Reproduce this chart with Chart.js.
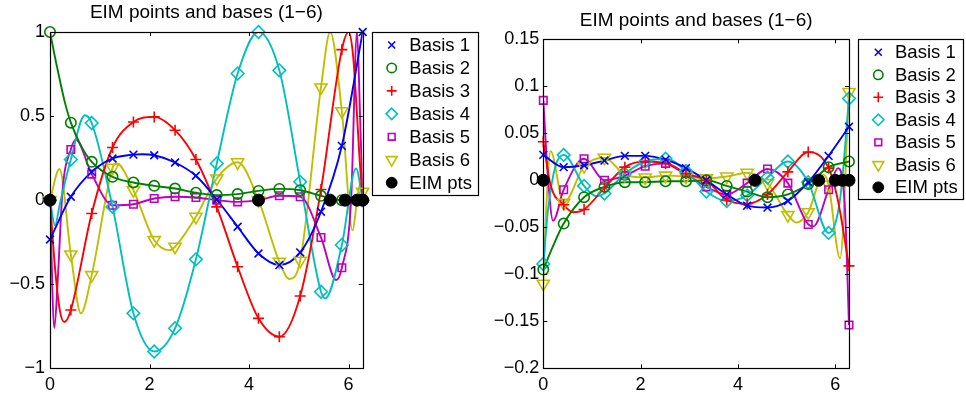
<!DOCTYPE html>
<html>
<head>
<meta charset="utf-8">
<script src="https://cdn.jsdelivr.net/npm/chart.js@4.4.0/dist/chart.umd.min.js"></script>
<style>
  html, body { margin: 0; padding: 0; background: #fff; }
  #wrap { position: relative; width: 966px; height: 396px; overflow: hidden; }
  canvas { position: absolute; top: 0; }
</style>
</head>
<body>
<div id="wrap">
  <canvas id="left" width="483" height="396" style="left:0"></canvas>
  <canvas id="right" width="483" height="396" style="left:483px"></canvas>
</div>
<script>
// marker positions along x (16 samples over 0..2pi)
const markerX = [0, 0.419, 0.838, 1.257, 1.676, 2.094, 2.513, 2.932, 3.351, 3.770, 4.189, 4.608, 5.027, 5.445, 5.864, 6.283];
const basisNames = ['Basis 1', 'Basis 2', 'Basis 3', 'Basis 4', 'Basis 5', 'Basis 6'];
const eimLabel = 'EIM pts';
const titleText = 'EIM points and bases (1\u22126)';

// left panel: values at the markers
const leftB1 = [-0.234, 0.02, 0.168, 0.248, 0.271, 0.267, 0.224, 0.145, 0.004, -0.158, -0.317, -0.386, -0.311, -0.069, 0.323, 1.0];
const leftB2 = [1.0, 0.461, 0.228, 0.139, 0.105, 0.085, 0.069, 0.044, 0.03, 0.036, 0.055, 0.067, 0.059, 0.026, 0.0, 0.0];
const leftB3 = [0, -0.653, -0.079, 0.313, 0.465, 0.495, 0.416, 0.242, -0.04, -0.396, -0.703, -0.812, -0.57, 0.063, 0.895, 0];
const leftB4 = [0, 0.242, 0.459, -0.04, -0.673, -0.9, -0.762, -0.352, 0.218, 0.753, 1.0, 0.772, 0.109, -0.545, -0.267, 0];
const leftB5 = [0, 0.301, 0.155, -0.03, -0.024, 0.01, 0.02, 0.016, 0, -0.01, 0, 0.026, 0.02, -0.222, -0.402, 0];
const leftB6 = [0, -0.323, -0.446, 0.192, 0.059, -0.238, -0.277, -0.099, 0.129, 0.225, 0, -0.366, -0.36, 0.67, 0.529, 0.05];
const leftB1Extra = [[1.85, 0.273]];
const leftB2Extra = [[0.1, 0.85], [0.2, 0.71], [0.3, 0.58], [0.63, 0.32]];
const leftB3Extra = [[0.1, -0.4], [0.2, -0.66], [0.29, -0.725], [6.0, 1.0], [6.09, 0.86], [6.16, 0.55], [6.22, 0.25]];
const leftB4Extra = [[0.1, -0.15], [0.2, -0.02], [0.7, 0.505], [5.53, -0.584], [6.15, 0.188]];
const leftB5Extra = [[0.087, -0.76], [0.16, -0.45], [0.25, 0.05], [0.516, 0.36], [5.75, -0.475], [6.05, 0.0], [6.17, 1.0], [6.23, 0.5]];
const leftB6Extra = [[0.19, 0.185], [0.62, -0.673], [1.34, 0.218], [2.41, -0.297], [4.81, -0.469], [5.63, 1.0], [6.08, -0.18], [6.17, 0.0], [6.24, 0.1]];
const leftEimX = [0, 4.189, 5.63, 5.93, 6.17, 6.283];

// right panel: values at the markers
const rightB1 = [0.027, 0.014, 0.016, 0.021, 0.026, 0.026, 0.022, 0.013, 0.0, -0.015, -0.027, -0.029, -0.022, -0.002, 0.026, 0.057];
const rightB2 = [-0.095, -0.046, -0.018, -0.007, -0.002, -0.002, -0.001, -0.001, 0.0, -0.006, -0.012, -0.018, -0.015, -0.004, 0.014, 0.02];
const rightB3 = [0.041, -0.026, -0.031, -0.008, 0.014, 0.02, 0.018, 0.007, 0.0, -0.021, -0.025, -0.015, 0.009, 0.03, 0.013, -0.091];
const rightB4 = [-0.089, 0.027, -0.006, -0.014, 0.007, 0.02, 0.023, 0.01, -0.012, -0.022, -0.016, 0.003, 0.02, -0.002, -0.056, 0.087];
const rightB5 = [0.085, -0.01, 0.023, 0.0, 0.005, 0.015, 0.018, 0.007, -0.007, -0.015, -0.003, 0.012, -0.003, -0.047, -0.01, -0.154];
const rightB6 = [-0.11, -0.024, 0.015, 0.024, 0.006, 0.003, 0.005, 0.004, 0.002, 0.004, 0.008, -0.003, -0.037, -0.034, -0.005, 0.094];
const rightB1Extra = [];
const rightB2Extra = [[0.2, -0.07]];
const rightB3Extra = [[0.15, -0.005], [0.62, -0.034], [6.05, -0.02]];
const rightB4Extra = [[0.1, -0.03], [0.25, 0.015], [1.1, -0.017], [6.1, -0.02]];
const rightB5Extra = [[0.1, 0.0], [0.2, -0.043], [5.55, -0.049], [6.06, 0.013], [6.2, -0.03]];
const rightB6Extra = [[0.07, -0.02], [0.15, 0.031], [5.2, -0.045], [5.76, 0.006], [6.1, -0.083]];
const rightEimX = [0, 4.35, 5.66, 6.0, 6.15, 6.283];

// styles
const basisColors = ['#0000ff', '#008000', '#ff0000', '#00bfbf', '#bf00bf', '#bfbf00'];
const basisMarkers = ['crossRot', 'circle', 'cross', 'rectRot', 'rect', 'triangle'];
const markerRotation = [0, 0, 0, 0, 0, 180];
const markerRadius = [5.5, 5.2, 5.5, 6.3, 5.3, 7];
const FONT = '"Liberation Sans", Arial, Helvetica, sans-serif';

const fmt = v => String(Math.round(v * 1000) / 1000).replace('-', '\u2212');

function buildDatasets(series, extras, eimX) {
  const sets = [];
  series.forEach((ys, i) => {
    sets.push({
      label: basisNames[i],
      inLegend: true,
      data: markerX.map((x, k) => ({ x, y: ys[k] })),
      showLine: false,
      pointStyle: basisMarkers[i],
      pointRotation: markerRotation[i],
      pointRadius: markerRadius[i],
      pointBorderWidth: 1.6,
      pointBorderColor: basisColors[i],
      pointBackgroundColor: 'rgba(0,0,0,0)',
      borderColor: basisColors[i],
      backgroundColor: 'rgba(0,0,0,0)',
      clip: 10,
      order: 1
    });
  });
  sets.push({
    label: eimLabel,
    inLegend: true,
    data: eimX.map(x => ({ x, y: 0 })),
    showLine: false,
    pointStyle: 'circle',
    pointRadius: 6,
    pointBorderWidth: 1,
    pointBorderColor: '#000',
    pointBackgroundColor: '#000',
    clip: 10,
    order: 0
  });
  series.forEach((ys, i) => {
    const pts = markerX.map((x, k) => ({ x, y: ys[k] }))
      .concat(extras[i].map(p => ({ x: p[0], y: p[1] })))
      .sort((a, b) => a.x - b.x);
    sets.push({
      label: '',
      data: pts,
      pointRadius: 0,
      borderColor: basisColors[i],
      borderWidth: 1.9,
      cubicInterpolationMode: 'monotone',
      fill: false,
      order: 2
    });
  });
  return sets;
}

const framePlugin = {
  id: 'frame',
  afterDraw(chart, args, o) {
    const { ctx, chartArea: a } = chart;
    const sx = chart.scales.x, sy = chart.scales.y;
    ctx.save();
    ctx.strokeStyle = '#000';
    ctx.lineWidth = 1;
    ctx.beginPath();
    sx.ticks.forEach(t => {
      const p = Math.round(sx.getPixelForValue(t.value)) + 0.5;
      ctx.moveTo(p, a.bottom); ctx.lineTo(p, a.bottom - 4);
      ctx.moveTo(p, a.top); ctx.lineTo(p, a.top + 4);
    });
    sy.ticks.forEach(t => {
      const p = Math.round(sy.getPixelForValue(t.value)) + 0.5;
      ctx.moveTo(a.left, p); ctx.lineTo(a.left + 4, p);
      ctx.moveTo(a.right, p); ctx.lineTo(a.right - 4, p);
    });
    ctx.stroke();
    ctx.lineWidth = 1.2;
    ctx.strokeRect(Math.round(a.left) + 0.5, Math.round(a.top) + 0.5,
      Math.round(a.right - a.left), Math.round(a.bottom - a.top));

    // title
    ctx.fillStyle = '#000';
    ctx.font = '19px ' + FONT;
    ctx.textAlign = 'center';
    ctx.textBaseline = 'alphabetic';
    ctx.fillText(o.title, (a.left + a.right) / 2, o.titleY);

    // legend box
    const L = o.legend;
    ctx.fillStyle = '#fff';
    ctx.fillRect(L.left, L.top, L.width, L.height);
    ctx.strokeStyle = '#000';
    ctx.lineWidth = 1.2;
    ctx.strokeRect(L.left + 0.5, L.top + 0.5, L.width, L.height);
    let row = 0;
    chart.data.datasets.forEach(ds => {
      if (!ds.inLegend) return;
      const y = L.firstRow + row * L.rowStep;
      ctx.strokeStyle = ds.pointBorderColor;
      ctx.fillStyle = ds.pointBackgroundColor;
      ctx.lineWidth = ds.pointBorderWidth;
      Chart.helpers.drawPoint(ctx, {
        pointStyle: ds.pointStyle,
        rotation: ds.pointRotation || 0,
        radius: ds.pointRadius * 0.9,
        borderWidth: ds.pointBorderWidth
      }, L.markerX, y);
      ctx.fillStyle = '#000';
      ctx.font = '18.5px ' + FONT;
      ctx.textAlign = 'left';
      ctx.textBaseline = 'middle';
      ctx.fillText(ds.label, L.textX, y + 1);
      row++;
    });
    ctx.restore();
  }
};

function makeChart(id, cfg) {
  return new Chart(document.getElementById(id), {
    type: 'line',
    data: { datasets: buildDatasets(cfg.series, cfg.extras, cfg.eimX) },
    options: {
      responsive: false,
      animation: false,
      events: [],
      layout: { padding: cfg.pad },
      scales: {
        x: {
          type: 'linear',
          min: 0,
          max: 6.283185307179586,
          grid: { display: false, drawTicks: false },
          border: { display: false },
          ticks: {
            stepSize: 2,
            includeBounds: false,
            autoSkip: false,
            maxRotation: 0,
            padding: 6,
            color: '#000',
            font: { family: FONT, size: 18 },
            callback: v => fmt(v)
          },
          afterFit: s => { s.height = 22; }
        },
        y: {
          type: 'linear',
          min: cfg.yMin,
          max: cfg.yMax,
          grid: { display: false, drawTicks: false },
          border: { display: false },
          ticks: {
            stepSize: cfg.yStep,
            autoSkip: false,
            padding: cfg.yPad,
            color: '#000',
            font: { family: FONT, size: 18 },
            callback: v => fmt(v)
          },
          afterFit: s => { s.width = cfg.yWidth; }
        }
      },
      plugins: {
        legend: { display: false },
        tooltip: { enabled: false },
        frame: { title: titleText, titleY: cfg.titleY, legend: cfg.legend }
      }
    },
    plugins: [framePlugin]
  });
}

makeChart('left', {
  series: [leftB1, leftB2, leftB3, leftB4, leftB5, leftB6],
  extras: [leftB1Extra, leftB2Extra, leftB3Extra, leftB4Extra, leftB5Extra, leftB6Extra],
  eimX: leftEimX,
  yMin: -1, yMax: 1, yStep: 0.5,
  pad: { left: 10, right: 120.3, top: 32, bottom: 5.7 },
  yWidth: 40, yPad: 5,
  titleY: 17.5,
  legend: { left: 372, top: 32, width: 106, height: 163, firstRow: 45, rowStep: 22.95, markerX: 391.7, textX: 409.3 }
});

makeChart('right', {
  series: [rightB1, rightB2, rightB3, rightB4, rightB5, rightB6],
  extras: [rightB1Extra, rightB2Extra, rightB3Extra, rightB4Extra, rightB5Extra, rightB6Extra],
  eimX: rightEimX,
  yMin: -0.2, yMax: 0.15, yStep: 0.05,
  pad: { left: 10.3, right: 117, top: 39.3, bottom: 5.7 },
  yWidth: 50, yPad: 4,
  titleY: 26,
  legend: { left: 375, top: 39, width: 105, height: 160, firstRow: 52.3, rowStep: 22.5, markerX: 395.3, textX: 412 }
});
</script>
</body>
</html>
